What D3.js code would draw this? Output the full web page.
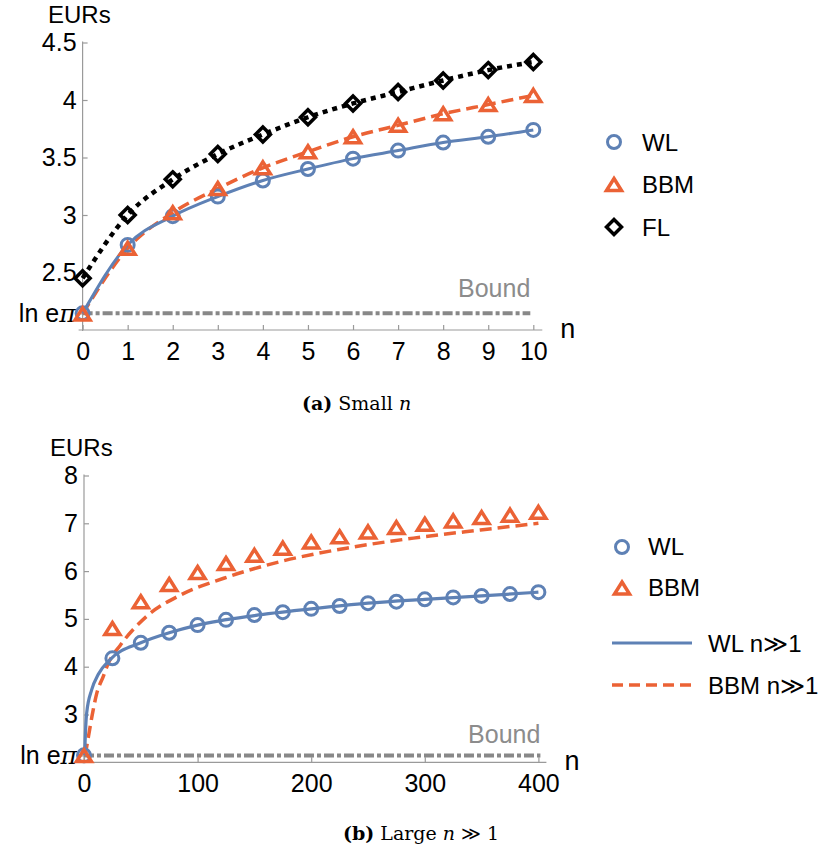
<!DOCTYPE html>
<html><head><meta charset="utf-8">
<script src="https://cdn.jsdelivr.net/npm/d3@7"></script>
<style>body{margin:0;background:#fff}svg{display:block}</style>
</head><body><svg id="c" width="831" height="852"></svg>
<script>
const LN_EPI = 1 + Math.log(Math.PI);
// ---- panel (a): small n
const smallN   = [0,1,2,3,4,5,6,7,8,9,10];
const smallWL  = [2.145,2.74,2.99,3.16,3.30,3.40,3.49,3.56,3.63,3.68,3.74];
const smallBBM = [2.14,2.71,3.02,3.23,3.41,3.55,3.68,3.78,3.88,3.96,4.04];
const smallFL  = [2.45,3.00,3.31,3.53,3.70,3.85,3.97,4.07,4.17,4.26,4.33];
const smallXTicks = [0,1,2,3,4,5,6,7,8,9,10];
const smallYTicks = [2.5,3,3.5,4,4.5];
// ---- panel (b): large n
const largeN   = [0,25,50,75,100,125,150,175,200,225,250,275,300,325,350,375,400];
const largeWL  = [2.145,4.175,4.50,4.71,4.87,4.98,5.08,5.14,5.21,5.27,5.33,5.36,5.41,5.45,5.48,5.52,5.56];
const largeBBM = [2.14,4.80,5.36,5.72,5.97,6.16,6.33,6.48,6.61,6.72,6.82,6.91,6.98,7.05,7.12,7.17,7.23];
const wlAsymN  = [0.6,1,2.4,6.8,12.6,23,50,75,100,150,200,250,300,350,400];
const wlAsymV  = [2.15,2.45,3.04,3.52,3.84,4.15,4.50,4.71,4.87,5.07,5.21,5.33,5.41,5.48,5.56];
const bbmAsymN = [1,4,7,11,17,21,32,55,85,123,173,231,290,349,400];
const bbmAsymV = [2.14,2.55,2.96,3.42,3.80,4.05,4.45,5.05,5.50,5.85,6.20,6.48,6.69,6.86,7.00];
const largeXTicks = [0,100,200,300,400];
const largeYTicks = [3,4,5,6,7,8];

const BLUE = "#5E81B5", ORANGE = "#EB6235", BLACK = "#000", GRAY = "#888", AXIS = "#9a9a9a";
const SANS = "'Liberation Sans', Arial, sans-serif";
const SERIF = "'DejaVu Serif', serif";

const svg = d3.select("#c");
svg.append("rect").attr("width",831).attr("height",852).attr("fill","#fff");

function marker(g, type, x, y, color){
  if(type==="circle"){
    g.append("circle").attr("cx",x).attr("cy",y).attr("r",6.5)
      .attr("fill","none").attr("stroke",color).attr("stroke-width",3);
  } else if(type==="tri"){
    const h=12, w=15;
    g.append("path").attr("d",`M${x},${y-h/2}L${x+w/2},${y+h/2}L${x-w/2},${y+h/2}Z`)
      .attr("fill","none").attr("stroke",color).attr("stroke-width",3.5).attr("stroke-linejoin","miter");
  } else {
    const r=7.5;
    g.append("path").attr("d",`M${x},${y-r}L${x+r},${y}L${x},${y+r}L${x-r},${y}Z`)
      .attr("fill","none").attr("stroke",color).attr("stroke-width",3.5).attr("stroke-linejoin","miter");
  }
}

function panel(cfg){
  const g = svg.append("g");
  const x = cfg.x, y = cfg.y;
  const y0 = y.range()[0];
  // axes lines
  g.append("line").attr("x1",x.range()[0]-4).attr("x2",x.range()[1]+cfg.xOver)
    .attr("y1",y0).attr("y2",y0).attr("stroke",AXIS).attr("stroke-width",1.2);
  g.append("line").attr("x1",x.range()[0]).attr("x2",x.range()[0])
    .attr("y1",y.range()[1]-1).attr("y2",y0+1).attr("stroke",AXIS).attr("stroke-width",1.2);
  // x axis
  const xa = g.append("g").attr("transform",`translate(0,${y0})`)
    .call(d3.axisBottom(x).tickValues(cfg.xTicks).tickSizeInner(-5).tickSizeOuter(0).tickPadding(12).tickFormat(d3.format("d")));
  xa.select(".domain").remove();
  xa.selectAll("line").attr("stroke",AXIS).attr("stroke-width",1.2);
  xa.selectAll("text").attr("font-family",SANS).attr("font-size",25).attr("fill","#000");
  // y axis
  const ticks = [LN_EPI].concat(cfg.yTicks);
  const ya = g.append("g").attr("transform",`translate(${x.range()[0]},0)`)
    .call(d3.axisLeft(y).tickValues(ticks).tickSizeInner(-5).tickSizeOuter(0).tickPadding(6)
      .tickFormat(d => d===LN_EPI ? "" : String(d)));
  ya.select(".domain").remove();
  ya.selectAll("line").attr("stroke",AXIS).attr("stroke-width",1.2);
  ya.selectAll(".tick").filter(d=>d===LN_EPI).select("line").attr("x2",-5);
  ya.selectAll("text").attr("font-family",SANS).attr("font-size",25).attr("fill","#000");
  const lt = ya.selectAll(".tick").filter(d=>d===LN_EPI).select("text").attr("x",-7);
  lt.append("tspan").text("ln e");
  lt.append("tspan").attr("font-family","'DejaVu Serif', serif").attr("font-style","italic").text("π");
  // axis labels
  g.append("text").attr("x",cfg.eursX).attr("y",cfg.eursY).attr("font-family",SANS).attr("font-size",24).text("EURs");
  g.append("text").attr("x",x.range()[1]+cfg.xOver+18).attr("y",y0+8).attr("font-family",SANS).attr("font-size",27).text("n");
  // bound
  g.append("line").attr("x1",x.range()[0]).attr("x2",x.range()[1]-cfg.boundShort)
    .attr("y1",y(LN_EPI)).attr("y2",y(LN_EPI)).attr("stroke",GRAY).attr("stroke-width",4)
    .attr("stroke-dasharray","10,3,4,3");
  g.append("text").attr("x",x.range()[1]-cfg.boundShort).attr("y",y(LN_EPI)-cfg.boundDy)
    .attr("text-anchor","end").attr("font-family",SANS).attr("font-size",25).attr("fill","#8c8c8c").text("Bound");
  return g;
}

function drawLine(g, xs, vs, x, y, color, width, dash){
  const data = xs.map((n,i)=>[n,vs[i]]);
  g.append("path").datum(data)
    .attr("d", d3.line().x(d=>x(d[0])).y(d=>y(d[1])).curve(d3.curveMonotoneX))
    .attr("fill","none").attr("stroke",color).attr("stroke-width",width)
    .attr("stroke-dasharray",dash||null);
}

// ===== Panel (a)
const xA = d3.scaleLinear([0,10],[82.6,533.3]);
const yA = d3.scaleLinear([2,4.5],[330,42.5]);
const gA = panel({x:xA,y:yA,xTicks:smallXTicks,yTicks:smallYTicks,xOver:9,eursX:48,eursY:23,boundShort:3,boundDy:16});
drawLine(gA, smallN, smallFL, xA, yA, BLACK, 4.5, "5,5");
drawLine(gA, smallN, smallBBM, xA, yA, ORANGE, 3.5, "12,6");
drawLine(gA, smallN, smallWL, xA, yA, BLUE, 3);
smallN.forEach((n,i)=>marker(gA,"circle",xA(n),yA(smallWL[i]),BLUE));
smallN.forEach((n,i)=>marker(gA,"tri",xA(n),yA(smallBBM[i]),ORANGE));
smallN.forEach((n,i)=>marker(gA,"diamond",xA(n),yA(smallFL[i]),BLACK));

// legend (a)
const legA = [["circle","WL",BLUE],["tri","BBM",ORANGE],["diamond","FL",BLACK]];
legA.forEach((d,i)=>{
  const cy = 142 + i*42.5;
  marker(svg, d[0], 614, cy, d[2]);
  svg.append("text").attr("x",642).attr("y",cy+8.5).attr("font-family",SANS).attr("font-size",24).text(d[1]);
});

// caption (a)
const capA = svg.append("text").attr("x",302).attr("y",410).attr("font-family",SERIF).attr("font-size",19);
capA.append("tspan").attr("font-weight","bold").text("(a)");
capA.append("tspan").text(" Small ");
capA.append("tspan").attr("font-style","italic").text("n");

// ===== Panel (b)
const xB = d3.scaleLinear([0,400],[84,538.4]);
const yB = d3.scaleLinear([2,8],[762.3,475.5]);
const gB = panel({x:xB,y:yB,xTicks:largeXTicks,yTicks:largeYTicks,xOver:8,eursX:50,eursY:456,boundShort:-2,boundDy:12});
drawLine(gB, bbmAsymN, bbmAsymV, xB, yB, ORANGE, 3.5, "12,6");
drawLine(gB, wlAsymN, wlAsymV, xB, yB, BLUE, 3.2);
largeN.forEach((n,i)=>marker(gB,"circle",xB(n),yB(largeWL[i]),BLUE));
largeN.forEach((n,i)=>marker(gB,"tri",xB(n),yB(largeBBM[i]),ORANGE));

// legend (b)
marker(svg,"circle",622,547,BLUE);
svg.append("text").attr("x",648).attr("y",555).attr("font-family",SANS).attr("font-size",24).text("WL");
marker(svg,"tri",622,588,ORANGE);
svg.append("text").attr("x",648).attr("y",596).attr("font-family",SANS).attr("font-size",24).text("BBM");
svg.append("line").attr("x1",612).attr("x2",692).attr("y1",643).attr("y2",643).attr("stroke",BLUE).attr("stroke-width",3.2);
svg.append("text").attr("x",708).attr("y",652).attr("font-family",SANS).attr("font-size",24).text("WL n≫1");
svg.append("line").attr("x1",612).attr("x2",692).attr("y1",685).attr("y2",685).attr("stroke",ORANGE).attr("stroke-width",3.5).attr("stroke-dasharray","11,6");
svg.append("text").attr("x",708).attr("y",694).attr("font-family",SANS).attr("font-size",24).text("BBM n≫1");

// caption (b)
const capB = svg.append("text").attr("x",343).attr("y",840).attr("font-family",SERIF).attr("font-size",19);
capB.append("tspan").attr("font-weight","bold").text("(b)");
capB.append("tspan").text(" Large ");
capB.append("tspan").attr("font-style","italic").text("n");
capB.append("tspan").text(" ≫ 1");
</script></body></html>
